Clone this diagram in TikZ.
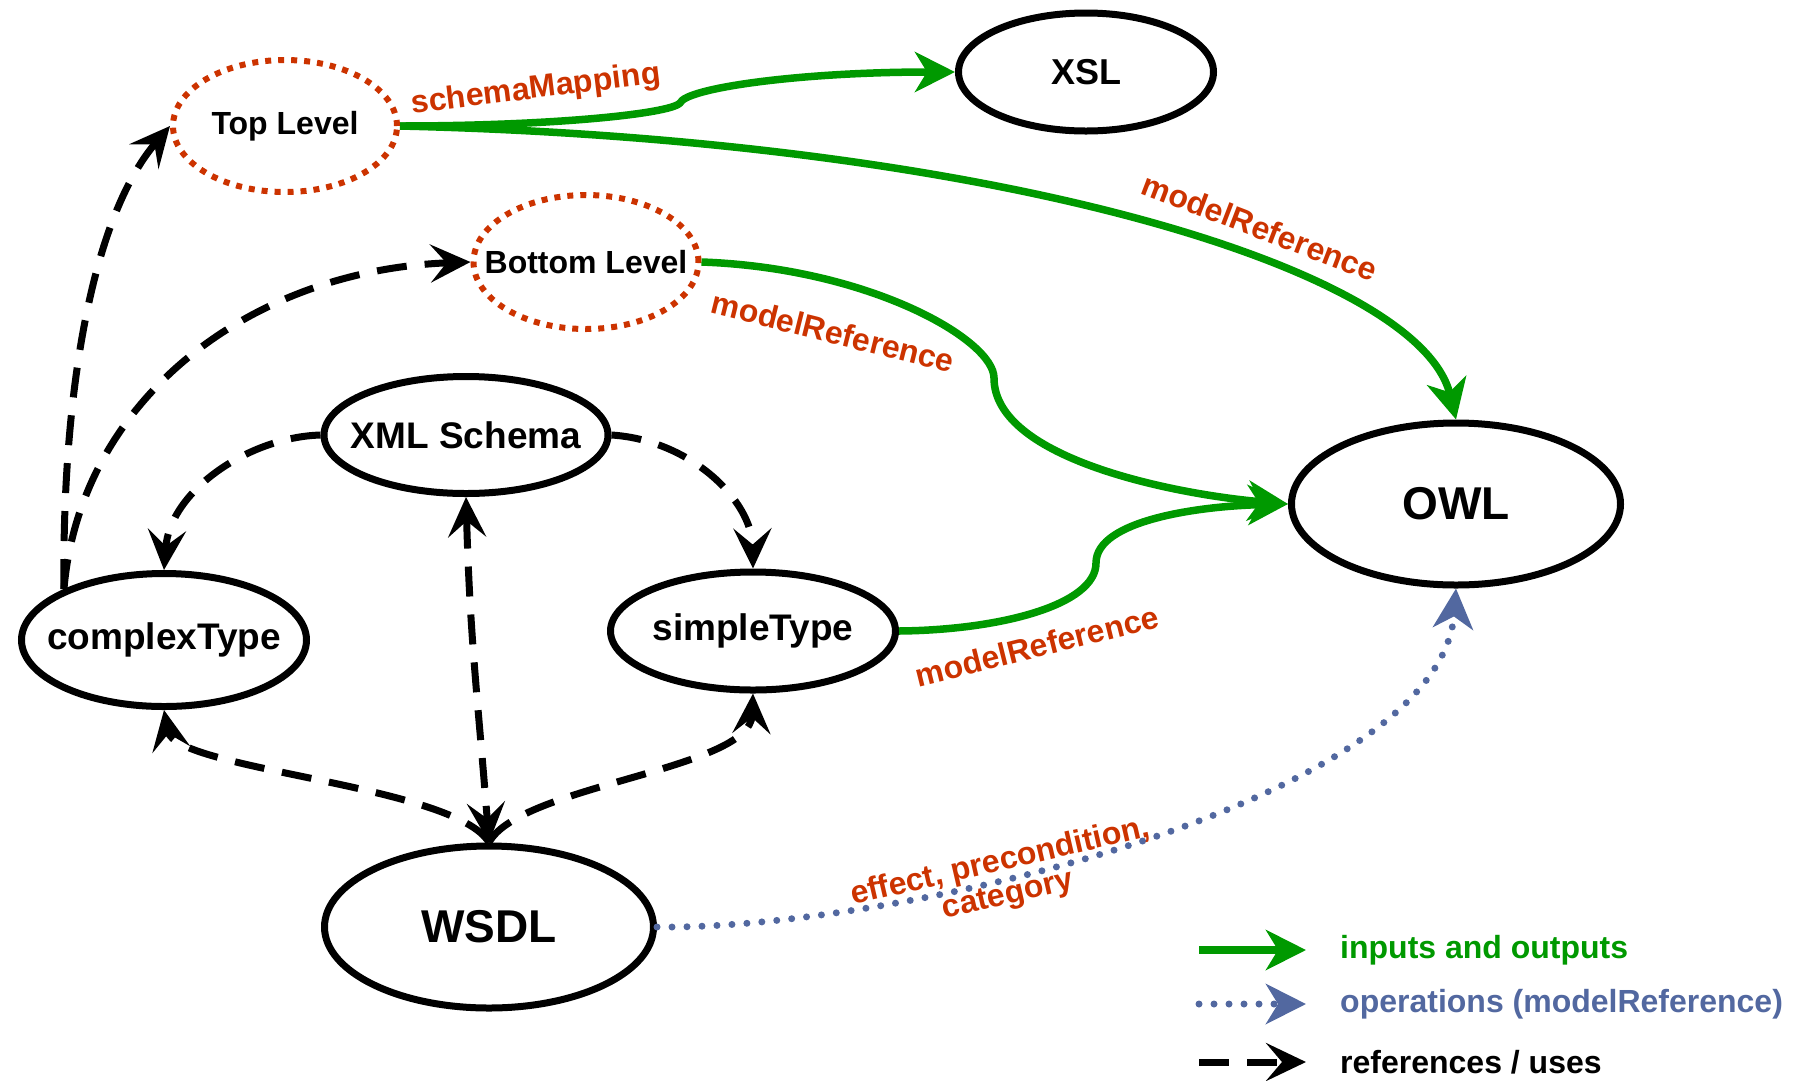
\documentclass[tikz,border=0pt]{standalone}
\usepackage{fontspec}
\setmainfont{Liberation Sans}
\usetikzlibrary{arrows.meta,shapes.geometric}
\definecolor{iogreen}{RGB}{0,153,0}
\definecolor{labred}{RGB}{204,51,0}
\definecolor{opblue}{RGB}{82,104,160}
\tikzset{
	gtip/.tip={Stealth[length=40pt,width=40pt,inset=12pt]},
	btip/.tip={Stealth[length=40pt,width=38pt,inset=16pt]},
}
\newcommand{\ctext}[1]{\makebox[0pt]{#1}}
\begin{document}
\begin{tikzpicture}[x=1pt, y=-1pt,
	concept/.style={ellipse, draw, line width=7pt, inner sep=0pt},
	level/.style={ellipse, draw=labred, line width=6pt, dash pattern=on 6pt off 7pt, inner sep=0pt,
		font=\fontsize{32}{38}\selectfont\bfseries},
	io/.style={draw=iogreen, line width=7.5pt, -gtip},
	op/.style={draw=opblue, line width=7pt, line cap=round, dash pattern=on 0pt off 15pt, -gtip, opblue},
	uses/.style={draw, line width=7pt, dash pattern=on 30pt off 18pt, -btip},
	lab/.style={text=labred, inner sep=0pt, font=\fontsize{32}{34}\selectfont\bfseries},
	legend/.style={anchor=west, inner sep=0pt, font=\fontsize{32}{38}\selectfont\bfseries}]
	\useasboundingbox (0,0) rectangle (1796,1080);
	% nodes
	\node[concept, minimum width=255pt, minimum height=118pt, font=\fontsize{36}{42}\selectfont\bfseries] (xsl) at (1086,72) {\ctext{XSL}};
	\node[level, minimum width=224pt, minimum height=132pt] (top) at (285,126) {\ctext{Top Level}};
	\node[level, minimum width=225pt, minimum height=134pt] (bot) at (586,262) {\ctext{Bottom Level}};
	\node[concept, minimum width=284pt, minimum height=117pt, font=\fontsize{37}{44}\selectfont\bfseries] (xml) at (466,435) {\ctext{XML Schema}};
	\node[concept, minimum width=285pt, minimum height=133pt, font=\fontsize{37}{44}\selectfont\bfseries] (cx) at (164,640) {\ctext{complexType}};
	\node[concept, minimum width=285pt, minimum height=118pt, font=\fontsize{37}{44}\selectfont\bfseries] (st) at (753,631) {\ctext{simpleType}};
	\node[concept, minimum width=329pt, minimum height=162pt, font=\fontsize{46}{54}\selectfont\bfseries] (wsdl) at (489,927) {\ctext{WSDL}};
	\node[concept, minimum width=329pt, minimum height=162pt, font=\fontsize{46}{54}\selectfont\bfseries] (owl) at (1456,504) {\ctext{OWL}};
	% inputs and outputs
	\draw[io] (top.east) .. controls (550,126) and (670,114) .. (680,103) .. controls (686,88) and (800,72) .. (xsl.west);
	\node[lab, rotate=7] (smap) at (536,90) {schemaMapping};
	\draw[io] (top.east) .. controls (1000,140) and (1420,270) .. (owl.north);
	\node[lab, rotate=-21] (mref1) at (1260,227) {modelReference};
	\draw[io] (bot.east) .. controls (870,268) and (994,340) .. (994,378) .. controls (994,460) and (1180,495) .. (owl.west);
	\node[lab, rotate=-14] (mref2) at (833,332) {modelReference};
	\draw[io] (st.east) .. controls (1000,630) and (1096,605) .. (1096,563) .. controls (1096,520) and (1200,506) .. (owl.west);
	\node[lab, rotate=14] (mref3) at (1037,646) {modelReference};
	% operations
	\draw[op] (wsdl.east) .. controls (900,930) and (1440,800) .. (owl.south);
	\node[lab, rotate=13, align=center] (ops) at (1004,879) {effect, precondition,\\category};
	% references / uses
	\draw[uses] (xml.west) .. controls (250,437) and (170,490) .. (cx.north);
	\draw[uses] (xml.east) .. controls (690,440) and (752,500) .. (st.north);
	\draw[uses, btip-btip] (xml.south) .. controls (470,640) and (478,700) .. (wsdl.north);
	\draw[uses] (wsdl.north) .. controls (455,785) and (175,770) .. (cx.south);
	\draw[uses] (wsdl.north) .. controls (520,785) and (750,770) .. (st.south);
	\draw[uses] (cx.153) .. controls (62,400) and (90,220) .. (top.west);
	\draw[uses] (cx.153) .. controls (80,400) and (250,270) .. (bot.west);
	% legend
	\coordinate (lg1a) at (1199,950);  \coordinate (lg1b) at (1306,950);
	\coordinate (lg2a) at (1199,1004); \coordinate (lg2b) at (1306,1004);
	\coordinate (lg3a) at (1199,1062); \coordinate (lg3b) at (1306,1062);
	\draw[io] (lg1a) -- (lg1b);
	\draw[op] (lg2a) -- (lg2b);
	\draw[uses] (lg3a) -- (lg3b);
	\node[legend, text=iogreen] (lgio) at (1340,950) {inputs and outputs};
	\node[legend, text=opblue] (lgop) at (1340,1004) {operations (modelReference)};
	\node[legend] (lguse) at (1340,1062) {references / uses};
\end{tikzpicture}
\end{document}
